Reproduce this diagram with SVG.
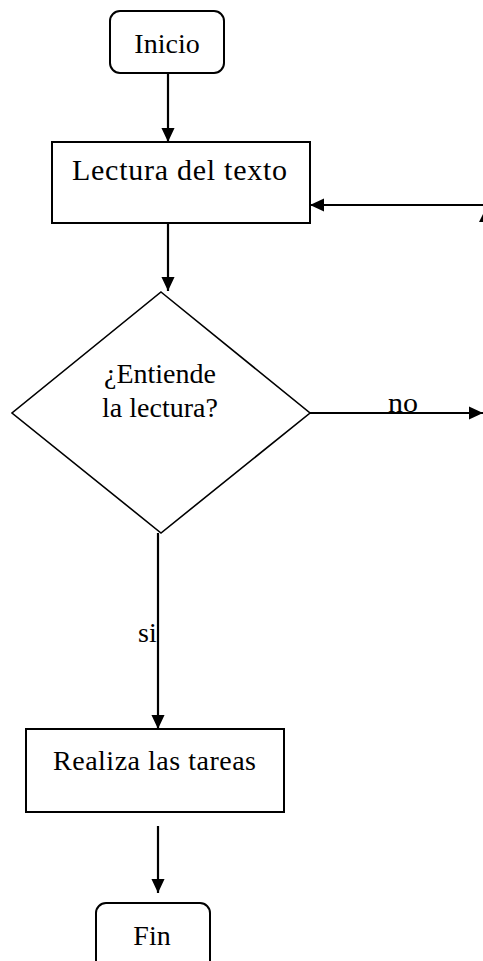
<svg xmlns="http://www.w3.org/2000/svg" width="483" height="961" viewBox="0 0 483 961">
<style>
.box{fill:#fff;stroke:#000;stroke-width:2}
.dia{fill:#fff;stroke:#000;stroke-width:1.6}
.t{font-family:"Liberation Serif","Times New Roman",serif;font-size:28px;fill:#000}
.c{text-anchor:middle}
.ln{stroke:#000;stroke-width:2.2;fill:none}
</style>
<defs>
<marker id="ah" viewBox="0 0 14 15" refX="15" refY="7" markerWidth="15" markerHeight="14" markerUnits="userSpaceOnUse" orient="auto">
<path d="M0,0 L15,7 L0,14 Z" fill="#000"/>
</marker>
</defs>
<rect width="483" height="961" fill="#fff"/>
<g id="connectors">
<line class="ln" x1="168" y1="73" x2="168" y2="142" marker-end="url(#ah)"/>
<line class="ln" x1="168" y1="223" x2="168" y2="291" marker-end="url(#ah)"/>
<line class="ln" x1="310" y1="413" x2="483" y2="413" marker-end="url(#ah)"/>
<line class="ln" x1="483" y1="205" x2="310" y2="205" marker-end="url(#ah)"/>
<polygon points="486,208 479,222 493,222" fill="#000"/>
<line class="ln" x1="158" y1="533" x2="158" y2="729" marker-end="url(#ah)"/>
<line class="ln" x1="158" y1="826" x2="158" y2="893" marker-end="url(#ah)"/>
<text class="t" x="388" y="412" textLength="30" lengthAdjust="spacingAndGlyphs">no</text>
<text class="t" x="138" y="642">si</text>
</g>
<g id="inicio">
<rect class="box" x="110" y="11" width="114" height="62" rx="10"/>
<text class="t c" x="167" y="53">Inicio</text>
</g>
<g id="lectura">
<rect class="box" x="52" y="142" width="258" height="81"/>
<text class="t" x="72" y="180" style="font-size:30px" textLength="215" lengthAdjust="spacing">Lectura del texto</text>
</g>
<g id="decision">
<polygon class="dia" points="161,292 310,413 161,533 12,413"/>
<text class="t c" x="160" y="383">¿Entiende</text>
<text class="t c" x="160" y="417">la lectura?</text>
</g>
<g id="realiza">
<rect class="box" x="26" y="729" width="258" height="83"/>
<text class="t" x="53" y="770" textLength="203" lengthAdjust="spacing">Realiza las tareas</text>
</g>
<g id="fin">
<rect class="box" x="96" y="903" width="114" height="70" rx="10"/>
<text class="t c" x="152" y="945">Fin</text>
</g>
</svg>
